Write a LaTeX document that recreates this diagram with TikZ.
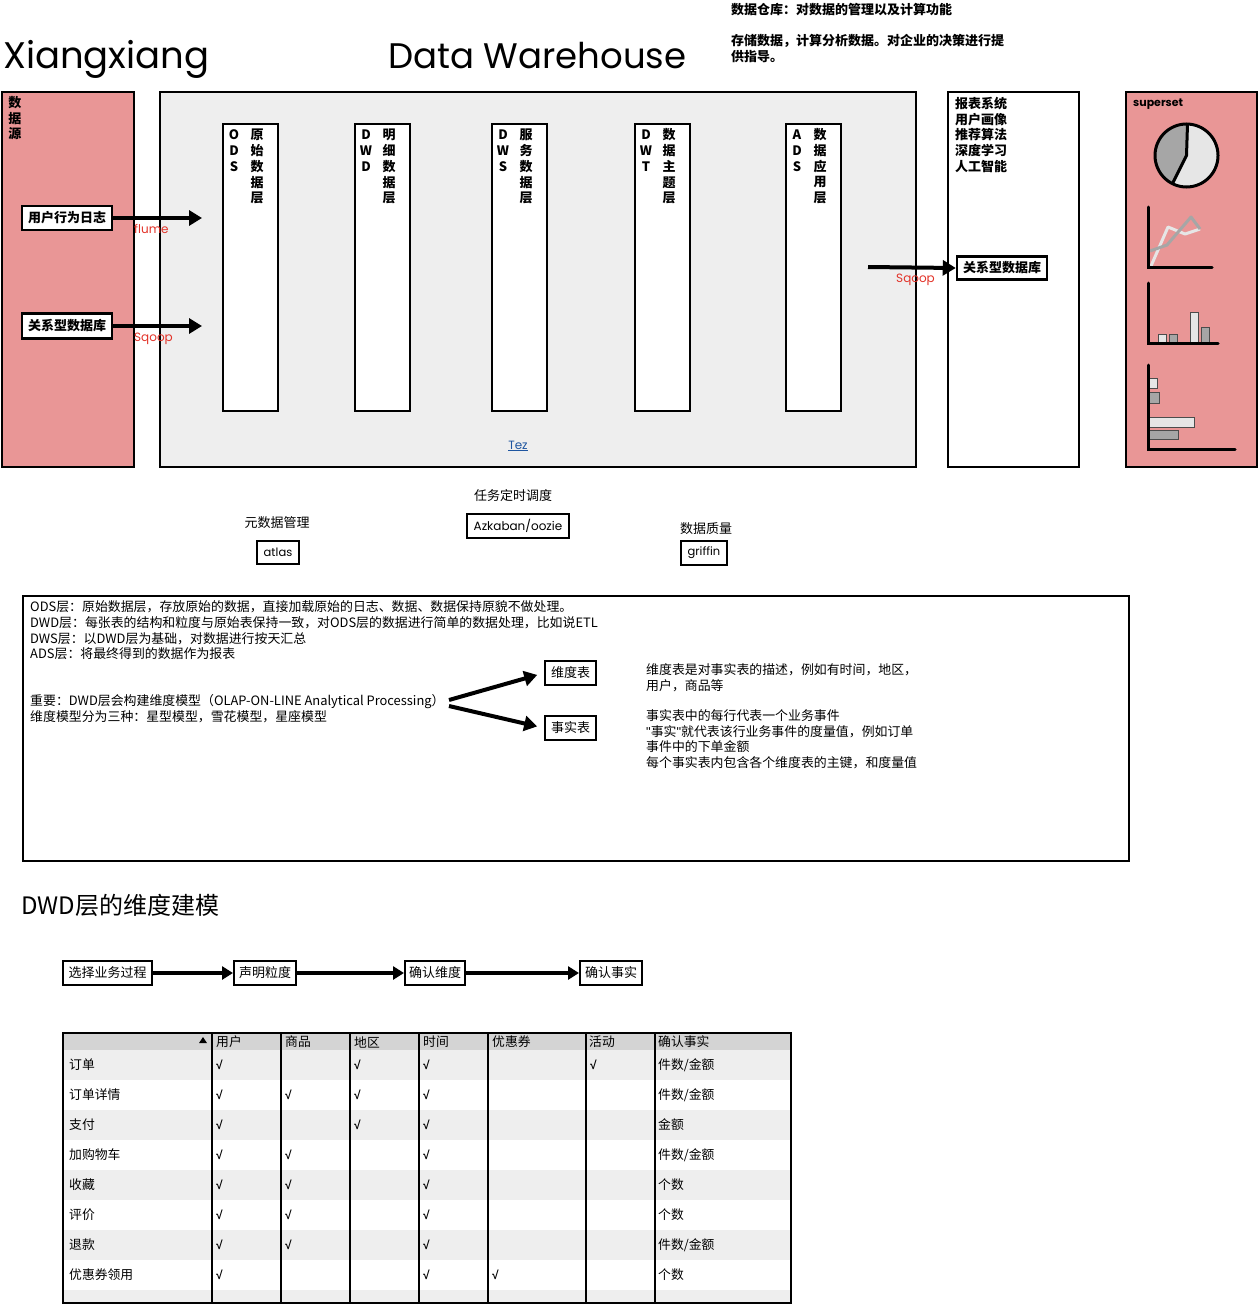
\documentclass[tikz,border=0pt]{standalone}
\usepackage{fontspec}
\setmainfont{Noto Sans CJK SC}
\newfontfamily\bal{Poppins}
\newfontfamily\lib{Liberation Sans}
\usetikzlibrary{arrows.meta}
\definecolor{pinkbg}{RGB}{233,150,150}
\definecolor{graybg}{RGB}{238,238,238}
\definecolor{sqred}{RGB}{226,50,40}
\definecolor{tezblue}{RGB}{30,85,160}
\definecolor{pied}{RGB}{166,166,166}
\definecolor{piel}{RGB}{230,230,230}
\definecolor{thbg}{RGB}{212,212,212}
\definecolor{rowbg}{RGB}{238,238,238}
\newcommand\jsje{件数/金额}
\newcommand\layercol[4]{%
  \node[colbox, anchor=north west] (#1) at (#2,123) {};
  \foreach \c [count=\i] in {#3} {\node[coltxt] (#1-l\i) at ({#2+12},{135+(\i-1)*15.8}) {\c};}
  \foreach \c [count=\i] in {#4} {\node[coltxt] (#1-c\i) at ({#2+35},{135+(\i-1)*15.8}) {\c};}
}
\begin{document}
\begin{tikzpicture}[x=1pt,y=-1pt,
  panel/.style={draw=black, line width=2.2pt, inner sep=0pt, anchor=north west},
  colbox/.style={draw=black, line width=2pt, fill=white, minimum width=55, minimum height=287, inner sep=0pt},
  coltxt/.style={inner sep=0pt, font=\bfseries\fontsize{13}{15}\selectfont},
  lbox/.style={draw=black, line width=2.5pt, fill=white, inner sep=0pt, font=\bfseries\fontsize{13}{15}\selectfont},
  sbox/.style={draw=black, line width=2pt, fill=white, inner sep=0pt, font=\fontsize{13}{15}\selectfont},
  bbox/.style={draw=black, line width=2pt, fill=white, inner sep=0pt, font=\bal\fontsize{11.5}{14}\selectfont},
  txt/.style={inner sep=0pt, anchor=base west, font=\fontsize{12.9}{15}\selectfont},
  btxt/.style={inner sep=0pt, anchor=base west, font=\bfseries\fontsize{13}{15}\selectfont},
  ctxt/.style={inner sep=0pt, font=\fontsize{13}{15}\selectfont},
  redlbl/.style={inner sep=0pt, anchor=base west, text=sqred, font=\bal\fontsize{12}{14}\selectfont},
  bigarrow/.style={line width=4pt, -{Triangle[length=13pt,width=15pt]}},
  flowarrow/.style={line width=3.5pt, -{Triangle[length=11pt,width=13pt]}},
  cell/.style={inner sep=0pt, anchor=west, font=\fontsize{12.8}{15}\selectfont},
  chk/.style={inner sep=0pt, anchor=west, font=\lib\bfseries\fontsize{12}{15}\selectfont},
  axis/.style={line width=3pt, line cap=round},
  bar/.style={draw=black!70, line width=1pt}
]
\useasboundingbox (0,0) rectangle (1258,1306);

% titles
\node[anchor=base west, inner sep=0pt, font=\bal\fontsize{37}{40}\selectfont] (title1) at (3,68) {Xiangxiang};
\node[anchor=base west, inner sep=0pt, font=\bal\fontsize{35.5}{40}\selectfont] (title2) at (388,68) {Data Warehouse};
\node[btxt] (note1) at (731,15) {数据仓库：对数据的管理以及计算功能};
\node[btxt] (note2) at (731,46) {存储数据，计算分析数据。对企业的决策进行提};
\node[btxt] (note3) at (731,62) {供指导。};

% data source panel
\node[panel, fill=pinkbg, minimum width=132, minimum height=375] (src) at (1,91) {};
\node[coltxt] (src1) at (15,103) {数};
\node[coltxt] (src2) at (15,118.5) {据};
\node[coltxt] (src3) at (15,134) {源};
\node[lbox, minimum width=90, minimum height=24] (log) at (67,218) {用户行为日志};
\node[lbox, minimum width=90, minimum height=25] (rdb1) at (67,326) {关系型数据库};

% warehouse panel
\node[panel, fill=graybg, minimum width=756, minimum height=375] (dw) at (159,91) {};
\layercol{ods}{222}{O,D,S}{原,始,数,据,层}
\layercol{dwd}{354}{D,W,D}{明,细,数,据,层}
\layercol{dws}{491}{D,W,S}{服,务,数,据,层}
\layercol{dwt}{634}{D,W,T}{数,据,主,题,层}
\layercol{ads}{785}{A,D,S}{数,据,应,用,层}
\node[inner sep=0pt, text=tezblue, font=\bal\fontsize{12}{14}\selectfont] (tez) at (518,446) {\underline{Tez}};

\coordinate (logEnd) at (202,218);
\coordinate (rdbEnd) at (202,326);
\draw[bigarrow] (log.east) -- (logEnd);
\draw[bigarrow] (rdb1.east) -- (rdbEnd);
\node[redlbl] (flume) at (134,233) {flume};
\node[redlbl] (sq1) at (134,341) {Sqoop};

% application panel
\node[panel, fill=white, minimum width=131, minimum height=375] (app) at (947,91) {};
\node[btxt] (app1) at (955,108) {报表系统};
\node[btxt] (app2) at (955,124) {用户画像};
\node[btxt] (app3) at (955,139) {推荐算法};
\node[btxt] (app4) at (955,155) {深度学习};
\node[btxt] (app5) at (955,171) {人工智能};
\node[lbox, minimum width=90, minimum height=23] (rdb2) at (1002,268) {关系型数据库};
\coordinate (adsOut) at (868,267);
\draw[bigarrow] (adsOut) -- (rdb2.west);
\node[redlbl] (sq2) at (896,282) {Sqoop};

% superset panel
\node[panel, fill=pinkbg, minimum width=131, minimum height=375] (sup) at (1125,91) {};
\node[inner sep=0pt, anchor=base west, font=\bal\bfseries\fontsize{11}{13}\selectfont] (suptxt) at (1133,106) {superset};
% pie
\fill[piel] (1186.5,155.5) circle[radius=31.5pt];
\fill[pied] (1186.5,155.5) -- (1186.5,124) arc[start angle=90, end angle=243.4, radius=31.5pt] -- cycle;
\draw[line width=3pt] (1186.5,155.5) circle[radius=31.5pt];
\draw[line width=3pt, line join=round] (1187.5,124) -- (1186.5,155.5) -- (1172.4,183.7);
% line chart
\draw[line width=3pt, piel, line join=round] (1151,266) -- (1168,227) -- (1185,234) -- (1200,229);
\draw[line width=3pt, pied, line join=round] (1150,251) -- (1167,245) -- (1191,217) -- (1200,229);
\draw[axis] (1148,207) -- (1148,267) -- (1212,267);
% bar chart
\filldraw[bar, fill=piel] (1158,334) rectangle (1166,342);
\filldraw[bar, fill=pied] (1169,334) rectangle (1177,342);
\filldraw[bar, fill=piel] (1190,312) rectangle (1198,342);
\filldraw[bar, fill=pied] (1201,327) rectangle (1209,342);
\draw[axis] (1148,283) -- (1148,343) -- (1218,343);
% horizontal bar chart
\filldraw[bar, fill=piel] (1149,378) rectangle (1157,388);
\filldraw[bar, fill=pied] (1149,392) rectangle (1159,403);
\filldraw[bar, fill=piel] (1149,417) rectangle (1194,427);
\filldraw[bar, fill=pied] (1149,430) rectangle (1178,439);
\draw[axis] (1148,365) -- (1148,449) -- (1235,449);

% tools
\node[ctxt] (metaL) at (277,523) {元数据管理};
\node[bbox, minimum width=42, minimum height=23] (atlas) at (278,552.5) {atlas};
\node[ctxt] (schedL) at (513,496) {任务定时调度};
\node[bbox, minimum width=102, minimum height=24, font=\bal\fontsize{12}{14}\selectfont] (azk) at (518,526) {Azkaban/oozie};
\node[ctxt] (qualL) at (706,529) {数据质量};
\node[bbox, minimum width=46, minimum height=24] (griffin) at (704,553) {griffin};

% notes box
\node[panel, fill=white, minimum width=1106, minimum height=265] (notes) at (22,595) {};
\node[txt] (n1) at (30,611) {ODS层：原始数据层，存放原始的数据，直接加载原始的日志、数据、数据保持原貌不做处理。};
\node[txt] (n2) at (30,627) {DWD层：每张表的结构和粒度与原始表保持一致，对ODS层的数据进行简单的数据处理，比如说ETL};
\node[txt] (n3) at (30,643) {DWS层：以DWD层为基础，对数据进行按天汇总};
\node[txt] (n4) at (30,658) {ADS层：将最终得到的数据作为报表};
\node[txt] (n5) at (30,705) {重要：DWD层会构建维度模型（OLAP-ON-LINE Analytical Processing）};
\node[txt] (n6) at (30,721) {维度模型分为三种：星型模型，雪花模型，星座模型};
\node[sbox, minimum width=51, minimum height=24] (wdb) at (570.5,673) {维度表};
\node[sbox, minimum width=51, minimum height=24] (ssb) at (570.5,728) {事实表};
\coordinate (fork1) at (449,700);
\coordinate (fork2) at (449,706);
\draw[bigarrow, shorten >=7pt] (fork1) -- (wdb.west);
\draw[bigarrow, shorten >=7pt] (fork2) -- (ssb.west);
\node[txt] (r1) at (646,674) {维度表是对事实表的描述，例如有时间，地区，};
\node[txt] (r2) at (646,690) {用户，商品等};
\node[txt] (r3) at (646,720) {事实表中的每行代表一个业务事件};
\node[txt] (r4) at (646,736) {{\lib "}事实{\lib "}就代表该行业务事件的度量值，例如订单};
\node[txt] (r5) at (646,751) {事件中的下单金额};
\node[txt] (r6) at (646,767) {每个事实表内包含各个维度表的主键，和度量值};

% DWD modelling
\node[inner sep=0pt, anchor=west, font=\fontsize{24}{28}\selectfont] (dwdT) at (21,905) {DWD层的维度建模};
\node[sbox, minimum width=89, minimum height=24] (f1) at (107.5,973) {选择业务过程};
\node[sbox, minimum width=62, minimum height=24] (f2) at (265,973) {声明粒度};
\node[sbox, minimum width=60, minimum height=24] (f3) at (435,973) {确认维度};
\node[sbox, minimum width=62, minimum height=24] (f4) at (611,973) {确认事实};
\draw[flowarrow] (f1) -- (f2);
\draw[flowarrow] (f2) -- (f3);
\draw[flowarrow] (f3) -- (f4);

% table
\fill[thbg] (63,1033) rectangle (791,1050);
\foreach \r in {1,3,5,7} {\fill[rowbg] (63,{1050+(\r-1)*30}) rectangle (791,{1080+(\r-1)*30});}
\fill[rowbg] (63,1290) rectangle (791,1303);
\foreach \x in {212,281,350,419,488,586,655} {\draw[line width=1.6pt] (\x,1033) -- (\x,1303);}
\draw[line width=2.5pt] (63,1033) rectangle (791,1303);
\fill (199,1043) -- (207,1043) -- (203,1037) -- cycle;
\foreach \h/\x in {用户/216, 商品/285, 地区/354, 时间/423, 优惠券/492, 活动/589, 确认事实/658}
  {\node[cell] (th-\x) at (\x,1042) {\h};}
\foreach \n/\f [count=\r] in {订单/\jsje, 订单详情/\jsje, 支付/金额, 加购物车/\jsje, 收藏/个数, 评价/个数, 退款/\jsje, 优惠券领用/个数} {
  \node[cell] (rn-\r) at (69,{1065+(\r-1)*30}) {\n};
  \node[cell] (rf-\r) at (658,{1065+(\r-1)*30}) {\f};
}
\foreach \r/\c in {1/1,1/3,1/4,1/6, 2/1,2/2,2/3,2/4, 3/1,3/3,3/4, 4/1,4/2,4/4, 5/1,5/2,5/4, 6/1,6/2,6/4, 7/1,7/2,7/4, 8/1,8/4,8/5} {
  \pgfmathsetmacro\cx{{63,212,281,350,419,488,586,655}[\c]+4}
  \node[chk] (chk-\r-\c) at (\cx,{1065+(\r-1)*30}) {√};
}
\end{tikzpicture}
\end{document}
